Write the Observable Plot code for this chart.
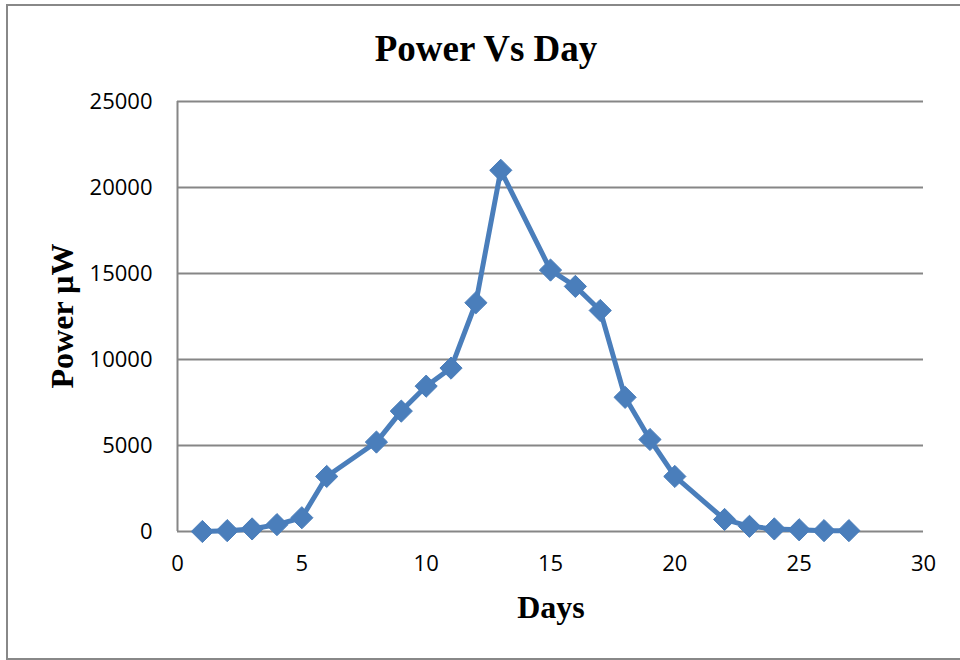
<!DOCTYPE html>
<html>
<head>
<meta charset="utf-8">
<script src="https://cdn.jsdelivr.net/npm/d3@7"></script>
<script src="https://cdn.jsdelivr.net/npm/@observablehq/plot@0.6"></script>
<style>
  html, body { margin: 0; padding: 0; background: #fff; }
  #wrap { position: relative; width: 960px; height: 660px; overflow: hidden; }
  #frame { position: absolute; left: 6px; top: 4px; width: 1000px; height: 652px; border: 2px solid #888; border-right: none; box-sizing: content-box; }
  .lbl { position: absolute; font-family: "Liberation Serif", "Times New Roman", serif; font-weight: bold; color: #000; white-space: nowrap; }
  #title { left: 486px; top: 48px; transform: translate(-50%, -50%); font-size: 37px; }
  #xlab { left: 551px; top: 607px; transform: translate(-50%, -50%); font-size: 32px; }
  #ylab { left: 62px; top: 316px; transform: translate(-50%, -50%) rotate(-90deg); font-size: 32px; }
  #chart { position: absolute; left: 0; top: 0; }
</style>
</head>
<body>
<div id="wrap">
  <div id="frame"></div>
  <div id="chart"></div>
  <div class="lbl" id="title">Power Vs Day</div>
  <div class="lbl" id="xlab">Days</div>
  <div class="lbl" id="ylab">Power µW</div>
</div>
<script>
const days  = [1, 2, 3, 4, 5, 6, 8, 9, 10, 11, 12, 13, 15, 16, 17, 18, 19, 20, 22, 23, 24, 25, 26, 27];
const power = [0, 50, 150, 400, 800, 3200, 5200, 7000, 8450, 9500, 13300, 21000, 15200, 14250, 12850, 7800, 5350, 3200, 700, 300, 150, 100, 50, 50];
const xTicks = [0, 5, 10, 15, 20, 25, 30];
const yTicks = [0, 5000, 10000, 15000, 20000, 25000];

const data = days.map((d, i) => ({day: d, power: power[i]}));
const blue = "#4A7EBB";

const chart = Plot.plot({
  width: 960,
  height: 660,
  marginLeft: 177,
  marginRight: 37,
  marginTop: 101,
  marginBottom: 129,
  style: {fontFamily: "'Open Sans', Lato, sans-serif", fontSize: "22px", color: "#000", background: "transparent"},
  x: {domain: [0, 30], ticks: xTicks, label: null},
  y: {domain: [0, 25000], ticks: yTicks, label: null},
  marks: [
    Plot.gridY(yTicks, {stroke: "#868686", strokeOpacity: 1, strokeWidth: 2}),
    Plot.ruleX([0], {stroke: "#868686", strokeWidth: 2}),
    Plot.axisX(xTicks, {tickSize: 0, tickPadding: 24, tickFormat: d => String(d), fontSize: 22}),
    Plot.axisY(yTicks, {tickSize: 0, tickPadding: 25, tickFormat: d => String(d), fontSize: 22}),
    Plot.line(data, {x: "day", y: "power", stroke: blue, strokeWidth: 5, strokeLinejoin: "round"}),
    Plot.dot(data, {x: "day", y: "power", symbol: "diamond2", r: 10, fill: blue, stroke: blue, strokeWidth: 1})
  ]
});
document.getElementById("chart").appendChild(chart);
</script>
</body>
</html>
